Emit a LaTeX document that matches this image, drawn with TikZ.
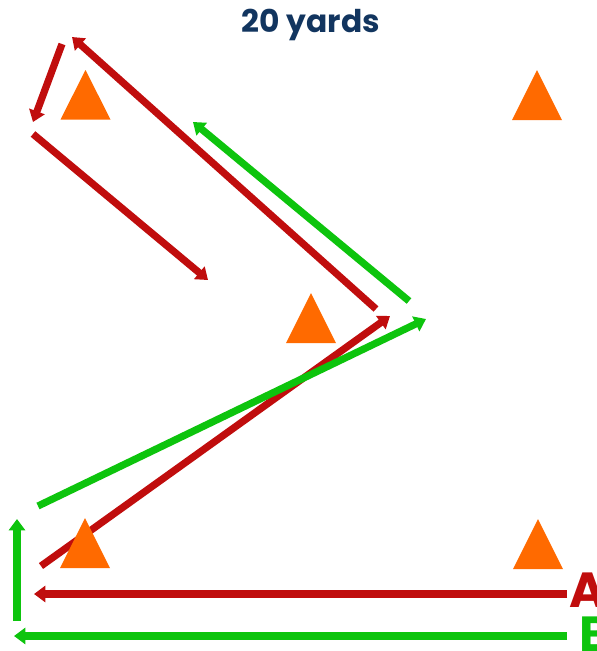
\documentclass[tikz,border=0pt]{standalone}
\usepackage{fontspec}
\setmainfont{Poppins}
\usetikzlibrary{arrows.meta}
\definecolor{cred}{HTML}{C00D0D}
\definecolor{cgreen}{HTML}{0DC40D}
\definecolor{corange}{HTML}{FF6A00}
\definecolor{cnavy}{HTML}{12355F}
\tikzset{
  x=0.75pt,y=-0.75pt,
  arrowline/.style={line width=5.4pt,-{Triangle[length=8.5pt,width=12pt]}},
  redarrow/.style={arrowline,draw=cred},
  greenarrow/.style={arrowline,draw=cgreen},
  cone/.style={fill=corange,draw=none},
  title/.style={font=\bfseries\fontsize{23.5}{26}\selectfont,text=cnavy,inner sep=0pt},
  letter/.style={font=\bfseries\fontsize{37}{40}\selectfont,inner sep=0pt,anchor=base west}
}
\begin{document}
\begin{tikzpicture}
\useasboundingbox (0,0) rectangle (597,651);
\clip (0,0) rectangle (597,651);
\fill[white] (0,0) rectangle (597,651);
\node[title] (t) at (311,25) {20 yards};
\foreach \n/\a/\b in {ra1s/62/44,ra1e/33/122,ra2s/376/309,ra2e/72/37,ra3s/33/134,ra3e/208/280,
 ga1s/409/301,ga1e/193/122,ra4s/41/566,ra4e/390/316,ga2s/38/506,ga2e/426/319,
 ga3s/17/621,ga3e/17/519,ra5s/567/594,ra5e/34/594,ga4s/567/636,ga4e/14/636}
 {\coordinate (\n) at (\a,\b);}
\draw[redarrow] (ra1s) -- (ra1e);
\draw[redarrow] (ra2s) -- (ra2e);
\draw[redarrow] (ra3s) -- (ra3e);
\draw[greenarrow] (ga1s) -- (ga1e);
\draw[redarrow] (ra4s) -- (ra4e);
\draw[greenarrow] (ga2s) -- (ga2e);
\draw[greenarrow] (ga3s) -- (ga3e);
\draw[redarrow] (ra5s) -- (ra5e);
\draw[greenarrow] (ga4s) -- (ga4e);
\fill[cone] (60.5,119.5) -- (85.5,70) -- (110.5,119.5) -- cycle;
\fill[cone] (512,120) -- (537,70) -- (562,120) -- cycle;
\fill[cone] (286,343) -- (311,293) -- (336,343) -- cycle;
\fill[cone] (60,568) -- (85,518) -- (110,568) -- cycle;
\fill[cone] (513,569) -- (538,519) -- (563,569) -- cycle;
\node[letter,text=cred] (la) at (569,607) {A};
\node[letter,text=cgreen] (lb) at (579,651) {B};
\end{tikzpicture}
\end{document}
